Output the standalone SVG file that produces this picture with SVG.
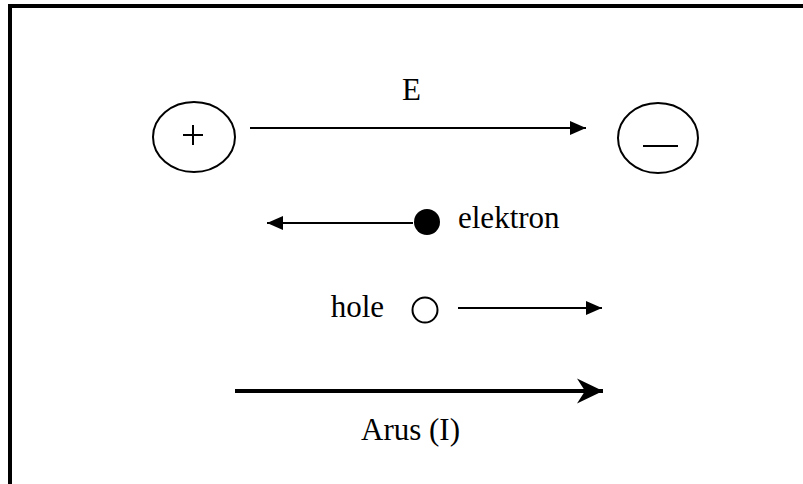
<svg xmlns="http://www.w3.org/2000/svg" width="803" height="484" viewBox="0 0 803 484">
<style>
text{font-family:'Liberation Serif','Times New Roman','DejaVu Serif',serif;font-size:31px;fill:#000}
.ln{stroke:#000;stroke-width:2;fill:none}
.ov{stroke:#000;stroke-width:2;fill:#fff}
</style>
<defs>
<marker id="ah" markerUnits="userSpaceOnUse" markerWidth="18" markerHeight="16" refX="16" refY="8" orient="auto">
<path d="M0,1 L16,8 L0,15 Z" fill="#000"/>
</marker>
<marker id="ahb" markerUnits="userSpaceOnUse" markerWidth="28" markerHeight="28" refX="26" refY="14" orient="auto">
<path d="M0,1.5 L26,14 L0,26.5 L8,14 Z" fill="#000"/>
</marker>
</defs>
<rect x="10" y="6" width="820" height="520" fill="#fff" stroke="#000" stroke-width="4"/>
<g id="connectors">
<line class="ln" x1="250" y1="128" x2="586" y2="128" marker-end="url(#ah)"/>
<line class="ln" x1="413" y1="223" x2="267" y2="223" marker-end="url(#ah)"/>
<line class="ln" x1="458" y1="308" x2="602" y2="308" marker-end="url(#ah)"/>
<line x1="235" y1="391" x2="603" y2="391" stroke="#000" stroke-width="4" marker-end="url(#ahb)"/>
</g>
<g id="plus">
<ellipse class="ov" cx="194" cy="137" rx="41" ry="35"/>
<path class="ln" d="M183,135 H203 M193,125 V145" stroke-width="1.5"/>
</g>
<g id="minus">
<ellipse class="ov" cx="658" cy="138" rx="40" ry="35"/>
<path class="ln" d="M643,146 H678" stroke-width="1.5"/>
</g>
<g id="E"><text x="402" y="100" font-family="Liberation Serif, serif">E</text></g>
<g id="electron">
<circle cx="427" cy="222" r="13" fill="#000"/>
<text x="458" y="228" font-family="Liberation Serif, serif">elektron</text>
</g>
<g id="hole">
<circle cx="425" cy="310" r="12.5" fill="#fff" stroke="#000" stroke-width="2"/>
<text x="384" y="317" text-anchor="end" font-family="Liberation Serif, serif">hole</text>
</g>
<g id="arus"><text x="460" y="440" text-anchor="end" font-family="Liberation Serif, serif">Arus (I)</text></g>
</svg>
